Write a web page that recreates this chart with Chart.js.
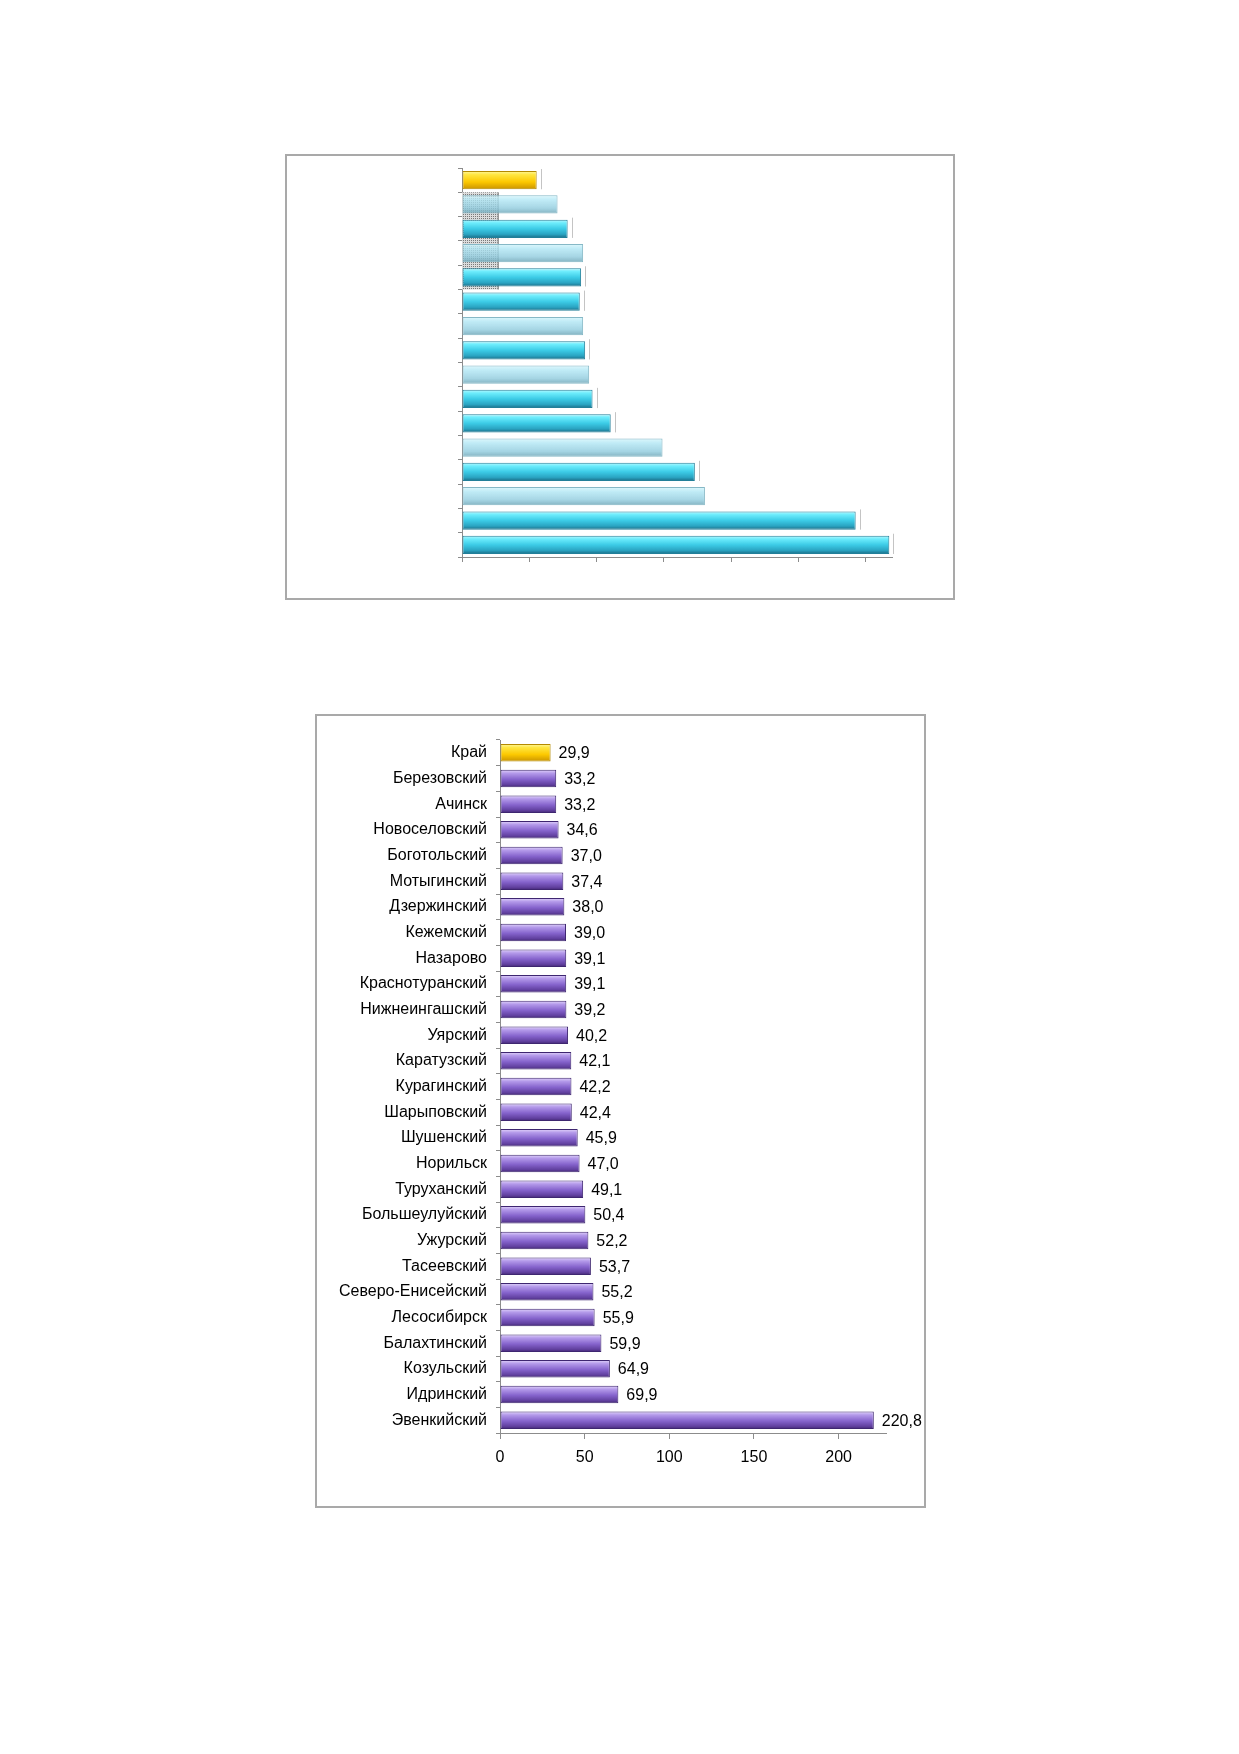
<!DOCTYPE html>
<html>
<head>
<meta charset="utf-8">
<script src="https://cdn.jsdelivr.net/npm/chart.js@4.4.1/dist/chart.umd.min.js"></script>
<style>
    body { margin: 0; background: #fff; width: 1239px; height: 1754px; position: relative; overflow: hidden; }
    .box { position: absolute; box-sizing: border-box; border: 2px solid #a9a9a9; background: #fff; }
    #topBox { left: 285px; top: 154px; width: 670px; height: 446px; }
    #bottomBox { left: 315px; top: 714px; width: 611px; height: 794px; }
    canvas { display: block; }
</style>
</head>
<body>
<div class="box" id="topBox"><canvas id="topChart"></canvas></div>
<div class="box" id="bottomBox"><canvas id="bottomChart"></canvas></div>

<script>
// upper chart (no labels in the picture)
const topCategories = ['1', '2', '3', '4', '5', '6', '7', '8', '9', '10', '11', '12', '13', '14', '15', '16'];
const topValues = [11.1, 14.2, 15.7, 18.0, 17.7, 17.5, 18.0, 18.3, 18.9, 19.4, 22.1, 29.8, 34.6, 36.1, 58.5, 63.5];
const topTicks = [0, 10, 20, 30, 40, 50, 60];
const topAxisMax = 63.9;
const topShadeValue = 5.3;
const topShadeRows = [0.5, 4.5];

// lower chart
const regions = ['Край', 'Березовский', 'Ачинск', 'Новоселовский', 'Боготольский', 'Мотыгинский',
    'Дзержинский', 'Кежемский', 'Назарово', 'Краснотуранский', 'Нижнеингашский', 'Уярский',
    'Каратузский', 'Курагинский', 'Шарыповский', 'Шушенский', 'Норильск', 'Туруханский',
    'Большеулуйский', 'Ужурский', 'Тасеевский', 'Северо-Енисейский', 'Лесосибирск',
    'Балахтинский', 'Козульский', 'Идринский', 'Эвенкийский'];
const regionValues = [29.9, 33.2, 33.2, 34.6, 37.0, 37.4, 38.0, 39.0, 39.1, 39.1, 39.2, 40.2,
    42.1, 42.2, 42.4, 45.9, 47.0, 49.1, 50.4, 52.2, 53.7, 55.2, 55.9, 59.9, 64.9, 69.9, 220.8];
const bottomTicks = [0, 50, 100, 150, 200];
const bottomAxisMax = 228;

// bar styles
const topShade = ['gold', 'pale', 'cyan', 'pale', 'cyan', 'cyan', 'pale', 'cyan',
    'pale', 'cyan', 'cyan', 'pale', 'cyan', 'pale', 'cyan', 'cyan'];

const stops = {
    gold:   [[0, '#fff7a0'], [0.2, '#ffe640'], [0.6, '#fcc800'], [1, '#c99300']],
    cyan:   [[0, '#b8f8ff'], [0.18, '#6cecfc'], [0.5, '#3ccbe6'], [0.8, '#2aa4c2'], [1, '#1b6d86']],
    pale:   [[0, 'rgba(214,246,252,0.8)'], [0.25, 'rgba(176,230,244,0.8)'], [0.7, 'rgba(146,204,222,0.82)'], [1, 'rgba(110,165,182,0.85)']],
    purple: [[0, '#e3d6fb'], [0.2, '#b49aea'], [0.55, '#8563cc'], [0.85, '#61409f'], [1, '#432873']]
};
const borders = { gold: '#b48a00', cyan: '#227f99', pale: '#86b8c6', purple: '#3e2670' };

Chart.defaults.font.family = '"Liberation Sans", Arial, sans-serif';
Chart.defaults.color = '#000';

// paints each bar with a vertical gradient
const glossPlugin = {
    id: 'gloss',
    beforeDatasetsDraw(chart, args, opts) {
        const ctx = chart.ctx;
        chart.getDatasetMeta(0).data.forEach((bar, i) => {
            const top = bar.y - bar.height / 2;
            const g = ctx.createLinearGradient(0, top, 0, top + bar.height);
            stops[opts.kind(i)].forEach(([o, c]) => g.addColorStop(o, c));
            bar.options.backgroundColor = g;
        });
    }
};

function hatchPattern(ctx) {
    const c = document.createElement('canvas');
    c.width = 4; c.height = 4;
    const p = c.getContext('2d');
    p.fillStyle = '#dcdcdc';
    p.fillRect(0, 0, 4, 4);
    p.fillStyle = '#7a7a7a';
    p.fillRect(0, 0, 1, 1);
    p.fillRect(2, 2, 1, 1);
    p.fillRect(2, 0, 1, 1);
    p.fillRect(0, 2, 1, 1);
    return ctx.createPattern(c, 'repeat');
}

const shadePlugin = {
    id: 'shade',
    beforeDatasetsDraw(chart) {
        const { ctx, scales: { x, y } } = chart;
        const x0 = x.getPixelForValue(0), x1 = x.getPixelForValue(topShadeValue);
        const y0 = y.getPixelForValue(topShadeRows[0]), y1 = y.getPixelForValue(topShadeRows[1]);
        ctx.save();
        ctx.fillStyle = hatchPattern(ctx);
        ctx.fillRect(x0, y0, x1 - x0, y1 - y0);
        ctx.strokeStyle = '#666';
        ctx.lineWidth = 1;
        ctx.beginPath();
        ctx.moveTo(x1 + 0.5, y0);
        ctx.lineTo(x1 + 0.5, y1);
        ctx.stroke();
        ctx.restore();
    }
};

// faint reflection line right of the bars
const edgePlugin = {
    id: 'edge',
    afterDatasetsDraw(chart) {
        const ctx = chart.ctx;
        ctx.save();
        ctx.strokeStyle = '#c4c4c4';
        ctx.lineWidth = 1;
        chart.getDatasetMeta(0).data.forEach((bar, i) => {
            if (topShade[i] === 'pale') return;
            const xx = Math.round(bar.x + 4) + 0.5;
            ctx.beginPath();
            ctx.moveTo(xx, bar.y - bar.height / 2 - 2);
            ctx.lineTo(xx, bar.y + bar.height / 2);
            ctx.stroke();
        });
        ctx.restore();
    }
};

const valueLabels = {
    id: 'valueLabels',
    afterDatasetsDraw(chart) {
        const ctx = chart.ctx;
        ctx.save();
        ctx.font = '16px "Liberation Sans", Arial, sans-serif';
        ctx.fillStyle = '#000';
        ctx.textBaseline = 'middle';
        ctx.textAlign = 'left';
        chart.getDatasetMeta(0).data.forEach((bar, i) => {
            ctx.fillText(regionValues[i].toFixed(1).replace('.', ','), bar.x + 8, bar.y + 1);
        });
        ctx.restore();
    }
};

new Chart(document.getElementById('topChart'), {
    type: 'bar',
    data: {
        labels: topCategories,
        datasets: [{
            data: topValues,
            backgroundColor: (c) => borders[topShade[c.dataIndex]],
            borderColor: (c) => borders[topShade[c.dataIndex]],
            borderWidth: 1,
            borderSkipped: false,
            barPercentage: 0.75,
            categoryPercentage: 1
        }]
    },
    options: {
        indexAxis: 'y',
        animation: false,
        responsive: true,
        maintainAspectRatio: false,
        layout: { padding: { left: 0, top: 12, right: 61, bottom: 33 } },
        plugins: {
            legend: { display: false },
            tooltip: { enabled: false },
            gloss: { kind: (i) => topShade[i] }
        },
        scales: {
            x: {
                min: 0,
                max: topAxisMax,
                afterBuildTicks: (s) => { s.ticks = topTicks.map(v => ({ value: v })); },
                afterFit: (s) => { s.height = 8; },
                ticks: { display: false },
                grid: { drawOnChartArea: false, tickLength: 5, color: '#8c8c8c' },
                border: { color: '#8c8c8c' }
            },
            y: {
                afterFit: (s) => { s.width = 175; },
                ticks: { display: false },
                grid: { drawOnChartArea: false, tickLength: 4, color: '#8c8c8c' },
                border: { color: '#8c8c8c' }
            }
        }
    },
    plugins: [shadePlugin, glossPlugin, edgePlugin]
});

new Chart(document.getElementById('bottomChart'), {
    type: 'bar',
    data: {
        labels: regions,
        datasets: [{
            data: regionValues,
            backgroundColor: (c) => c.dataIndex === 0 ? borders.gold : borders.purple,
            borderColor: (c) => c.dataIndex === 0 ? borders.gold : borders.purple,
            borderWidth: 1,
            borderSkipped: false,
            barPercentage: 0.68,
            categoryPercentage: 1
        }]
    },
    options: {
        indexAxis: 'y',
        animation: false,
        responsive: true,
        maintainAspectRatio: false,
        layout: { padding: { left: 0, top: 24, right: 38, bottom: 33 } },
        plugins: {
            legend: { display: false },
            tooltip: { enabled: false },
            gloss: { kind: (i) => i === 0 ? 'gold' : 'purple' }
        },
        scales: {
            x: {
                min: 0,
                max: bottomAxisMax,
                afterBuildTicks: (s) => { s.ticks = bottomTicks.map(v => ({ value: v })); },
                afterFit: (s) => { s.height = 40; },
                ticks: { font: { size: 16 }, padding: 9, color: '#000' },
                grid: { drawOnChartArea: false, tickLength: 6, color: '#8c8c8c' },
                border: { color: '#8c8c8c' }
            },
            y: {
                afterFit: (s) => { s.width = 183; },
                ticks: { font: { size: 16 }, padding: 9, color: '#000', autoSkip: false },
                grid: { drawOnChartArea: false, tickLength: 4, color: '#8c8c8c' },
                border: { color: '#8c8c8c' }
            }
        }
    },
    plugins: [glossPlugin, valueLabels]
});
</script>
</body>
</html>
